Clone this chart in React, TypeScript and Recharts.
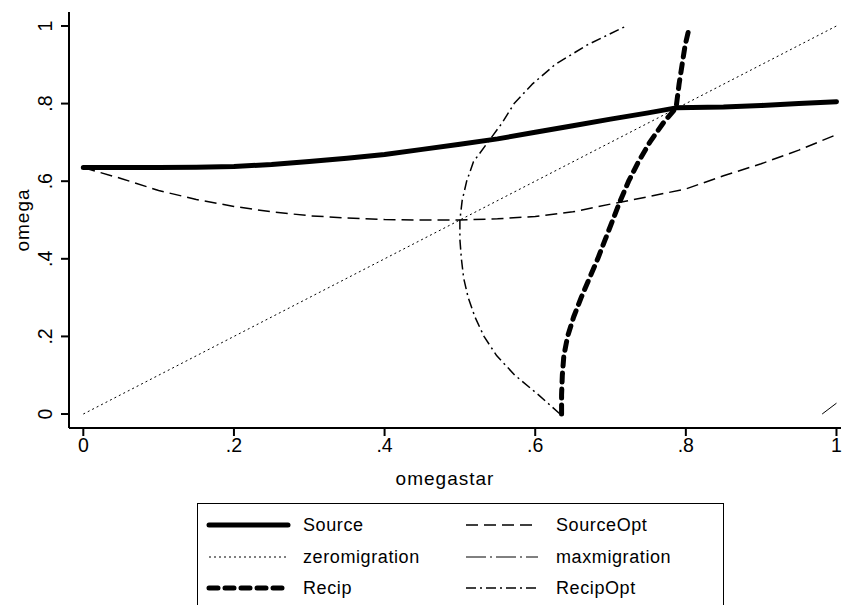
import React from 'react';
import { LineChart, Line, XAxis, YAxis, Label } from 'recharts';

// values (omegastar on x, omega on y)
const sourceOmegastar = [0, 0.05, 0.1, 0.15, 0.2, 0.25, 0.3, 0.35, 0.4, 0.45, 0.5, 0.55, 0.6, 0.65, 0.7, 0.75, 0.787, 0.85, 0.9, 0.95, 1];
const sourceOmega = [0.635, 0.635, 0.635, 0.636, 0.638, 0.643, 0.651, 0.659, 0.669, 0.682, 0.695, 0.709, 0.726, 0.743, 0.76, 0.776, 0.789, 0.791, 0.795, 0.8, 0.805];

const sourceOptOmegastar = [0, 0.05, 0.1, 0.15, 0.2, 0.25, 0.3, 0.35, 0.4, 0.45, 0.5, 0.55, 0.6, 0.65, 0.7, 0.75, 0.8, 0.85, 0.9, 0.95, 1];
const sourceOptOmega = [0.635, 0.607, 0.576, 0.553, 0.535, 0.521, 0.511, 0.505, 0.501, 0.5, 0.5, 0.503, 0.509, 0.521, 0.541, 0.56, 0.58, 0.614, 0.645, 0.68, 0.72];

const zeroOmegastar = [0, 1];
const zeroOmega = [0, 1];

const maxOmegastar = [0.981, 1];
const maxOmega = [0, 0.028];

const recipOmegastar = [0.635, 0.635, 0.636, 0.638, 0.643, 0.651, 0.661, 0.672, 0.683, 0.693, 0.703, 0.713, 0.724, 0.737, 0.752, 0.77, 0.787, 0.791, 0.795, 0.799, 0.805];
const recipOmega = [0, 0.05, 0.1, 0.15, 0.2, 0.25, 0.3, 0.35, 0.4, 0.45, 0.5, 0.55, 0.6, 0.65, 0.7, 0.75, 0.789, 0.85, 0.9, 0.95, 1];

const recipOptOmegastar = [0.633, 0.604, 0.573, 0.549, 0.532, 0.52, 0.511, 0.505, 0.502, 0.5, 0.5, 0.503, 0.509, 0.518, 0.537, 0.556, 0.572, 0.596, 0.626, 0.668, 0.721];
const recipOptOmega = [0, 0.05, 0.1, 0.15, 0.2, 0.25, 0.3, 0.35, 0.4, 0.45, 0.5, 0.55, 0.6, 0.65, 0.7, 0.75, 0.8, 0.85, 0.9, 0.95, 1];

const axisTicks = [0, 0.2, 0.4, 0.6, 0.8, 1];

const toPoints = (xs: number[], ys: number[]) => xs.map((x, i) => ({ x, y: ys[i] }));

const FONT = '"Liberation Sans", Arial, sans-serif';
const xDomain = [-0.019, 1.006];
const yDomain = [-0.036, 1.036];

const series = [
  { name: 'Source', data: toPoints(sourceOmegastar, sourceOmega), width: 5, dash: undefined, cap: 'round' },
  { name: 'SourceOpt', data: toPoints(sourceOptOmegastar, sourceOptOmega), width: 1.5, dash: '12 6', cap: 'butt' },
  { name: 'zeromigration', data: toPoints(zeroOmegastar, zeroOmega), width: 1, dash: '2 3', cap: 'butt' },
  { name: 'maxmigration', data: toPoints(maxOmegastar, maxOmega), width: 1, dash: '20 4 2 4', cap: 'butt' },
  { name: 'Recip', data: toPoints(recipOmegastar, recipOmega), width: 5, dash: '9 7', cap: 'round' },
  { name: 'RecipOpt', data: toPoints(recipOptOmegastar, recipOptOmega), width: 1.5, dash: '10 4 2 4', cap: 'butt' },
];

// legend order: two columns, three rows
const legendOrder = ['Source', 'SourceOpt', 'zeromigration', 'maxmigration', 'Recip', 'RecipOpt'];

const fmt = (v: number) => (v === 0 ? '0' : v === 1 ? '1' : String(v).replace(/^0/, ''));

const YTick = (props: any) => {
  const { x, y, payload } = props;
  return (
    <text x={x} y={y} transform={`rotate(-90, ${x}, ${y})`} textAnchor="middle" fontSize={19.5} fontFamily={FONT} fill="#000">
      {fmt(payload.value)}
    </text>
  );
};

const XTick = (props: any) => {
  const { x, y, payload } = props;
  return (
    <text x={x} y={y + 14} textAnchor="middle" fontSize={19.5} fontFamily={FONT} fill="#000">
      {fmt(payload.value)}
    </text>
  );
};

const LegendBox = () => (
  <div
    style={{
      position: 'absolute', left: 197, top: 503, width: 527, height: 120,
      border: '1.5px solid #000', boxSizing: 'border-box', background: '#fff',
    }}
  >
    {legendOrder.map((name, i) => {
      const s = series.find((d) => d.name === name)!;
      const col = i % 2;
      const row = Math.floor(i / 2);
      const lineLeft = col === 0 ? 8 : 265;
      const lineLen = col === 0 ? 82 : 75;
      const textLeft = col === 0 ? 105 : 358;
      const cy = 21 + row * 31.5;
      return (
        <React.Fragment key={name}>
          <svg style={{ position: 'absolute', left: lineLeft, top: cy - 5 }} width={lineLen + 4} height={10}>
            <line x1={3} y1={5} x2={lineLen} y2={5} stroke="#000" strokeWidth={s.width} strokeDasharray={s.dash} strokeLinecap={s.cap as any} />
          </svg>
          <div style={{ position: 'absolute', left: textLeft, top: cy - 11, fontSize: 18, lineHeight: '22px', fontFamily: FONT, letterSpacing: 0.6, whiteSpace: 'nowrap' }}>
            {name}
          </div>
        </React.Fragment>
      );
    })}
  </div>
);

export default function App() {
  return (
    <div style={{ position: 'relative', width: 843, height: 605, overflow: 'hidden', background: '#fff' }}>
      <style>{'body{margin:0}'}</style>
      <LineChart width={843} height={605} margin={{ top: 12, right: 2, left: 0, bottom: 0 }}>
        <XAxis
          dataKey="x" type="number" domain={xDomain} ticks={axisTicks} allowDataOverflow
          height={177} tickSize={8} tick={<XTick />}
          axisLine={{ stroke: '#000', strokeWidth: 2 }} tickLine={{ stroke: '#000', strokeWidth: 2 }}
        >
          <Label
            content={() => (
              <text x={445} y={485} textAnchor="middle" fontSize={19} fontFamily={FONT} letterSpacing={1} fill="#000">
                omegastar
              </text>
            )}
          />
        </XAxis>
        <XAxis xAxisId="top" orientation="top" type="number" domain={xDomain} height={0} tick={false} tickLine={false} axisLine={{ stroke: '#000', strokeWidth: 2 }} />
        <YAxis
          type="number" domain={yDomain} ticks={axisTicks} allowDataOverflow
          width={69} tickSize={8} tickMargin={9} tick={<YTick />}
          axisLine={{ stroke: '#000', strokeWidth: 2 }} tickLine={{ stroke: '#000', strokeWidth: 2 }}
        >
          <Label
            content={() => (
              <text x={29} y={220} transform="rotate(-90, 29, 220)" textAnchor="middle" fontSize={19} fontFamily={FONT} letterSpacing={1} fill="#000">
                omega
              </text>
            )}
          />
        </YAxis>
        <YAxis yAxisId="right" orientation="right" type="number" domain={yDomain} width={0} tick={false} tickLine={false} axisLine={{ stroke: '#000', strokeWidth: 2 }} />
        {series.map((s) => (
          <Line
            key={s.name} name={s.name} data={s.data} dataKey="y" type="linear"
            stroke="#000" strokeWidth={s.width} strokeDasharray={s.dash} strokeLinecap={s.cap as any} strokeLinejoin="round"
            dot={false} activeDot={false} isAnimationActive={false}
          />
        ))}
      </LineChart>
      <LegendBox />
    </div>
  );
}
